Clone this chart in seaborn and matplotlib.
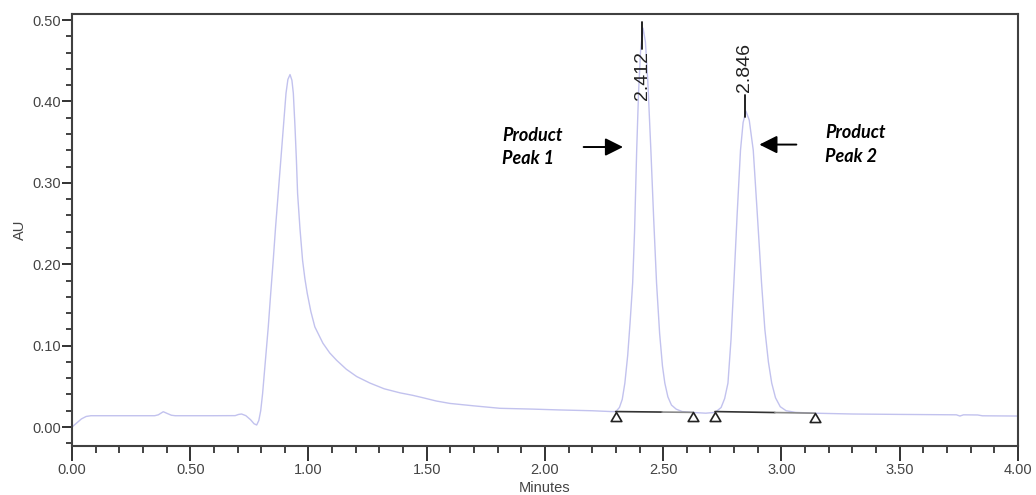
import matplotlib
matplotlib.use("Agg")
import matplotlib.pyplot as plt
from matplotlib.path import Path
from matplotlib.ticker import MultipleLocator, FormatStrFormatter
import seaborn as sns
import pandas as pd

# Chromatogram trace (retention time in minutes, absorbance in AU)
time_min = [
    0.000, 0.020, 0.040, 0.060, 0.080, 0.200, 0.350, 0.365, 0.386, 0.400,
    0.420, 0.436, 0.600, 0.690, 0.705, 0.717, 0.735, 0.755, 0.770, 0.781,
    0.790, 0.798, 0.806, 0.818, 0.830, 0.840, 0.851, 0.861, 0.872, 0.883,
    0.894, 0.905, 0.913, 0.922, 0.930, 0.936, 0.943, 0.949, 0.954, 0.964,
    0.975, 0.985, 0.995, 1.010, 1.027, 1.061, 1.090, 1.119, 1.160, 1.204,
    1.260, 1.320, 1.387, 1.440, 1.484, 1.540, 1.598, 1.700, 1.810, 1.950,
    2.060, 2.200, 2.280,
    2.300, 2.315, 2.327, 2.338, 2.350, 2.360, 2.371, 2.379, 2.388, 2.396,
    2.405, 2.415, 2.425, 2.435, 2.448, 2.460, 2.472, 2.485, 2.497, 2.507,
    2.520, 2.535, 2.555, 2.580, 2.620, 2.680,
    2.720, 2.745, 2.760, 2.774, 2.787, 2.799, 2.813, 2.827, 2.838, 2.850,
    2.864, 2.881, 2.898, 2.916, 2.930, 2.945, 2.959, 2.975, 2.995, 3.020,
    3.060, 3.140, 3.300, 3.500, 3.740, 3.755, 3.770, 3.830, 3.850, 4.000,
]
absorbance = [
    0.000, 0.005, 0.010, 0.0130, 0.0139, 0.0139, 0.0139, 0.0150, 0.0188, 0.0170,
    0.0145, 0.0139, 0.0139, 0.0140, 0.0155, 0.0160, 0.0140, 0.0090, 0.0040, 0.0025,
    0.0080, 0.0200, 0.041, 0.082, 0.123, 0.163, 0.205, 0.246, 0.287, 0.328,
    0.369, 0.410, 0.427, 0.433, 0.426, 0.410, 0.369, 0.328, 0.287, 0.244,
    0.205, 0.182, 0.164, 0.142, 0.123, 0.103, 0.091, 0.082, 0.071, 0.062,
    0.054, 0.047, 0.042, 0.039, 0.036, 0.032, 0.029, 0.026, 0.023, 0.022,
    0.021, 0.020, 0.019,
    0.019, 0.024, 0.034, 0.054, 0.088, 0.128, 0.177, 0.240, 0.340, 0.412,
    0.465, 0.490, 0.473, 0.425, 0.340, 0.255, 0.177, 0.115, 0.075, 0.054,
    0.037, 0.027, 0.022, 0.019, 0.018, 0.017,
    0.018, 0.024, 0.035, 0.054, 0.108, 0.177, 0.262, 0.340, 0.374, 0.388,
    0.377, 0.340, 0.262, 0.177, 0.120, 0.080, 0.054, 0.036, 0.025, 0.020,
    0.018, 0.017, 0.016, 0.0155, 0.0150, 0.0135, 0.0150, 0.0148, 0.0138, 0.0135,
]

# Labelled peaks: retention time and apex height
peak_times = [2.412, 2.846]
peak_heights = [0.490, 0.388]
peak_labels = ["2.412", "2.846"]

# Integration baselines: (start time, start AU, end time, end AU)
base_start_t = [2.299, 2.719]
base_start_a = [0.019, 0.019]
base_end_t = [2.626, 3.142]
base_end_a = [0.018, 0.017]

sns.set_theme(style="ticks")
plt.rcParams["font.family"] = ["Liberation Sans", "DejaVu Sans"]

fig = plt.figure(figsize=(10.36, 4.95), dpi=100)
ax = fig.add_axes([0.0695, 0.099, 0.913, 0.8727])

df = pd.DataFrame({"Minutes": time_min, "AU": absorbance})
sns.lineplot(data=df, x="Minutes", y="AU", ax=ax, sort=False,
             color="#c2c2ee", linewidth=1.0)

# Integration baselines with hollow triangle end markers (apex on the line)
tri = Path([(0, 0), (-1.0, -1.7), (1.0, -1.7), (0, 0)],
           [Path.MOVETO, Path.LINETO, Path.LINETO, Path.CLOSEPOLY])
for t0, a0, t1, a1 in zip(base_start_t, base_start_a, base_end_t, base_end_a):
    tm = t0 + 0.6 * (t1 - t0)
    am = a0 + 0.6 * (a1 - a0)
    ax.plot([t0, tm], [a0, am], color="#333333", lw=1.2, zorder=3)
    ax.plot([tm, t1], [am, a1], color="#8a8a8a", lw=1.2, zorder=3)
    ax.plot([t0, t1], [a0, a1], linestyle="none", marker=tri, markersize=13,
            markerfacecolor="white", markeredgecolor="#222222",
            markeredgewidth=1.2, zorder=4)

# Retention time labels
ax.plot([peak_times[0], peak_times[0]], [peak_heights[0] + 0.007, peak_heights[0] - 0.026],
        color="#111111", lw=1.3, zorder=5)
ax.text(peak_times[0], peak_heights[0] - 0.028, peak_labels[0], rotation=90,
        ha="center", va="top", fontsize=14, color="#222222", zorder=5)
ax.plot([peak_times[1], peak_times[1]], [peak_heights[1] - 0.007, peak_heights[1] + 0.020],
        color="#111111", lw=1.3, zorder=5)
ax.text(peak_times[1], peak_heights[1] + 0.024, peak_labels[1], rotation=90,
        ha="center", va="bottom", fontsize=14, color="#222222", zorder=5)

# Product peak callouts
ann_font = dict(family=["Lato", "DejaVu Sans"], fontweight="bold", fontstyle="italic",
                fontsize=13, color="black", linespacing=1.45)
ax.text(1.82, 0.344, "Product\nPeak 1", ha="left", va="center", **ann_font)
ax.text(3.185, 0.347, "Product\nPeak 2", ha="left", va="center", **ann_font)
arrow_kw = dict(arrowstyle="-|>,head_length=0.9,head_width=0.45", color="black", lw=1.4)
ax.annotate("", xy=(2.342, 0.344), xytext=(2.152, 0.344), arrowprops=arrow_kw)
ax.annotate("", xy=(2.895, 0.347), xytext=(3.075, 0.347), arrowprops=arrow_kw)

ax.set_xlim(0, 4.0)
ax.set_ylim(-0.0233, 0.5074)
ax.xaxis.set_major_locator(MultipleLocator(0.5))
ax.xaxis.set_minor_locator(MultipleLocator(0.1))
ax.yaxis.set_major_locator(MultipleLocator(0.1))
ax.yaxis.set_minor_locator(MultipleLocator(0.02))
ax.xaxis.set_major_formatter(FormatStrFormatter("%.2f"))
ax.yaxis.set_major_formatter(FormatStrFormatter("%.2f"))

ax.tick_params(axis="both", which="major", direction="out", length=7, width=1.3,
               color="#222222", labelsize=10.5, labelcolor="#444444",
               bottom=True, left=True, top=False, right=False)
ax.tick_params(axis="both", which="minor", direction="out", length=4, width=1.2,
               color="#222222", bottom=True, left=True, top=False, right=False)
ax.tick_params(axis="x", which="major", length=11, pad=1)
ax.tick_params(axis="x", which="minor", length=5)
ax.tick_params(axis="y", which="major", pad=1)

for s in ax.spines.values():
    s.set_color("#404040")
    s.set_linewidth(1.5)
    s.set_visible(True)

ax.set_xlabel("Minutes", fontsize=10.5, color="#444444", labelpad=3)
ax.set_ylabel("AU", fontsize=10.5, color="#444444", labelpad=4)

fig.savefig("out.png", dpi=100)
